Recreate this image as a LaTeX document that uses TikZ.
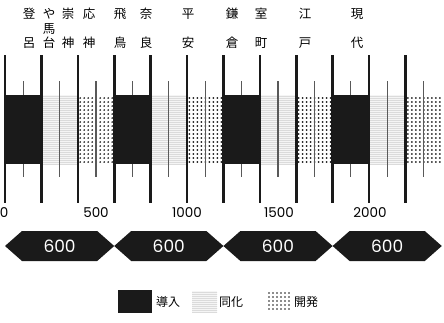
\documentclass[tikz,border=0pt]{standalone}
\usepackage{fontspec}
\newfontfamily\cjk{Noto Sans CJK JP}
\newfontfamily\numf{Poppins}
\usetikzlibrary{patterns.meta}
\definecolor{ink}{HTML}{1A1A1A}
\tikzset{
  tallline/.style={line width=2.6pt, draw=ink},
  shortline/.style={line width=1.1pt, draw=black!65},
  introbox/.style={fill=ink},
  dotmark/.style={fill=ink},
  toplab/.style={font=\cjk\fontsize{12.5}{12.5}\selectfont, inner sep=0pt},
  axislab/.style={font=\numf\fontsize{13.5}{13.5}\selectfont, inner sep=0pt},
  hexlab/.style={font=\numf\fontsize{17}{17}\selectfont, text=white, inner sep=0pt},
  leglab/.style={font=\cjk\fontsize{12}{12}\selectfont, inner sep=0pt},
  hexshape/.style={fill=ink}
}
\newcommand\assimfill[4]{%
  \fill[gray!8] (#1,#2) rectangle (#3,#4);
  \fill[pattern={Lines[distance=2pt,line width=0.3pt]}, pattern color=gray!28] (#1,#2) rectangle (#3,#4);
}
% dots: left x, top y, number of columns, number of rows
\newcommand\devdots[4]{%
  \foreach \ci in {1,...,#3}{
    \foreach \ri in {1,...,#4}{
      \fill[dotmark] ({#1-2+4*\ci},{#2-2+4*\ri}) circle (0.95pt);
    }
  }
}
\begin{document}
\begin{tikzpicture}[x=1pt,y=-1pt]
\useasboundingbox (0,0) rectangle (444,322);
% assimilation and development blocks
\foreach \k in {0,...,11}{
  \pgfmathsetmacro\xl{5+36.4*\k}
  \pgfmathsetmacro\xr{\xl+36.4}
  \pgfmathtruncatemacro\m{mod(\k,3)}
  \ifnum\m=1
    \assimfill{\xl}{95}{\xr}{164}
  \fi
  \ifnum\m=2
    \devdots{\xl+0.4}{96}{9}{17}
  \fi
}
% short lines
\foreach \k in {0,...,11}{
  \pgfmathsetmacro\xm{5+36.4*\k+18.2}
  \draw[shortline] (\xm,81) -- (\xm,177);
}
% introduction blocks (cover short lines)
\foreach \k in {0,3,6,9}{
  \pgfmathsetmacro\xl{5+36.4*\k}
  \pgfmathsetmacro\xr{\xl+36.4}
  \fill[introbox] (\xl,95) rectangle (\xr,164);
}
% tall lines
\foreach \k in {0,...,11}{
  \pgfmathsetmacro\xt{5+36.4*\k}
  \draw[tallline] (\xt,55) -- (\xt,203);
}
% top labels
\node[toplab] (t1a) at (29,14) {登};
\node[toplab] (t1b) at (29,43) {呂};
\node[toplab] (t2a) at (49,14) {や};
\node[toplab] (t2b) at (49,29) {馬};
\node[toplab] (t2c) at (49,43) {台};
\node[toplab] (t3a) at (68,14) {崇};
\node[toplab] (t3b) at (68,43) {神};
\node[toplab] (t4a) at (89,14) {応};
\node[toplab] (t4b) at (89,43) {神};
\node[toplab] (t5a) at (120,14) {飛};
\node[toplab] (t5b) at (120,43) {鳥};
\node[toplab] (t6a) at (146,14) {奈};
\node[toplab] (t6b) at (146,43) {良};
\node[toplab] (t7a) at (188,14) {平};
\node[toplab] (t7b) at (188,43) {安};
\node[toplab] (t8a) at (232,14) {鎌};
\node[toplab] (t8b) at (232,43) {倉};
\node[toplab] (t9a) at (261,14) {室};
\node[toplab] (t9b) at (261,43) {町};
\node[toplab] (t10a) at (305,14) {江};
\node[toplab] (t10b) at (305,43) {戸};
\node[toplab] (t11a) at (357,14) {現};
\node[toplab] (t11b) at (357,43) {代};
% axis labels
\node[axislab] (a0) at (4,213) {0};
\node[axislab] (a500) at (96,213) {500};
\node[axislab] (a1000) at (187,213) {1000};
\node[axislab] (a1500) at (279,213) {1500};
\node[axislab] (a2000) at (370,213) {2000};
% hexagons
\foreach \k in {0,...,3}{
  \pgfmathsetmacro\hl{5+109.2*\k}
  \pgfmathsetmacro\hr{\hl+109.2}
  \pgfmathsetmacro\hc{\hl+54.6}
  \fill[hexshape] (\hl,246) -- (\hl+17,231) -- (\hr-17,231) -- (\hr,246) -- (\hr-17,261) -- (\hl+17,261) -- cycle;
  \node[hexlab] (h\k) at (\hc,246) {600};
}
% legend
\fill[introbox] (118,290) rectangle (152,313);
\node[leglab] (l1) at (168,302) {導入};
\assimfill{192}{291}{217}{313}
\node[leglab] (l2) at (231,302) {同化};
\devdots{267}{291}{6}{5}
\node[leglab] (l3) at (306,302) {開発};
\end{tikzpicture}
\end{document}
